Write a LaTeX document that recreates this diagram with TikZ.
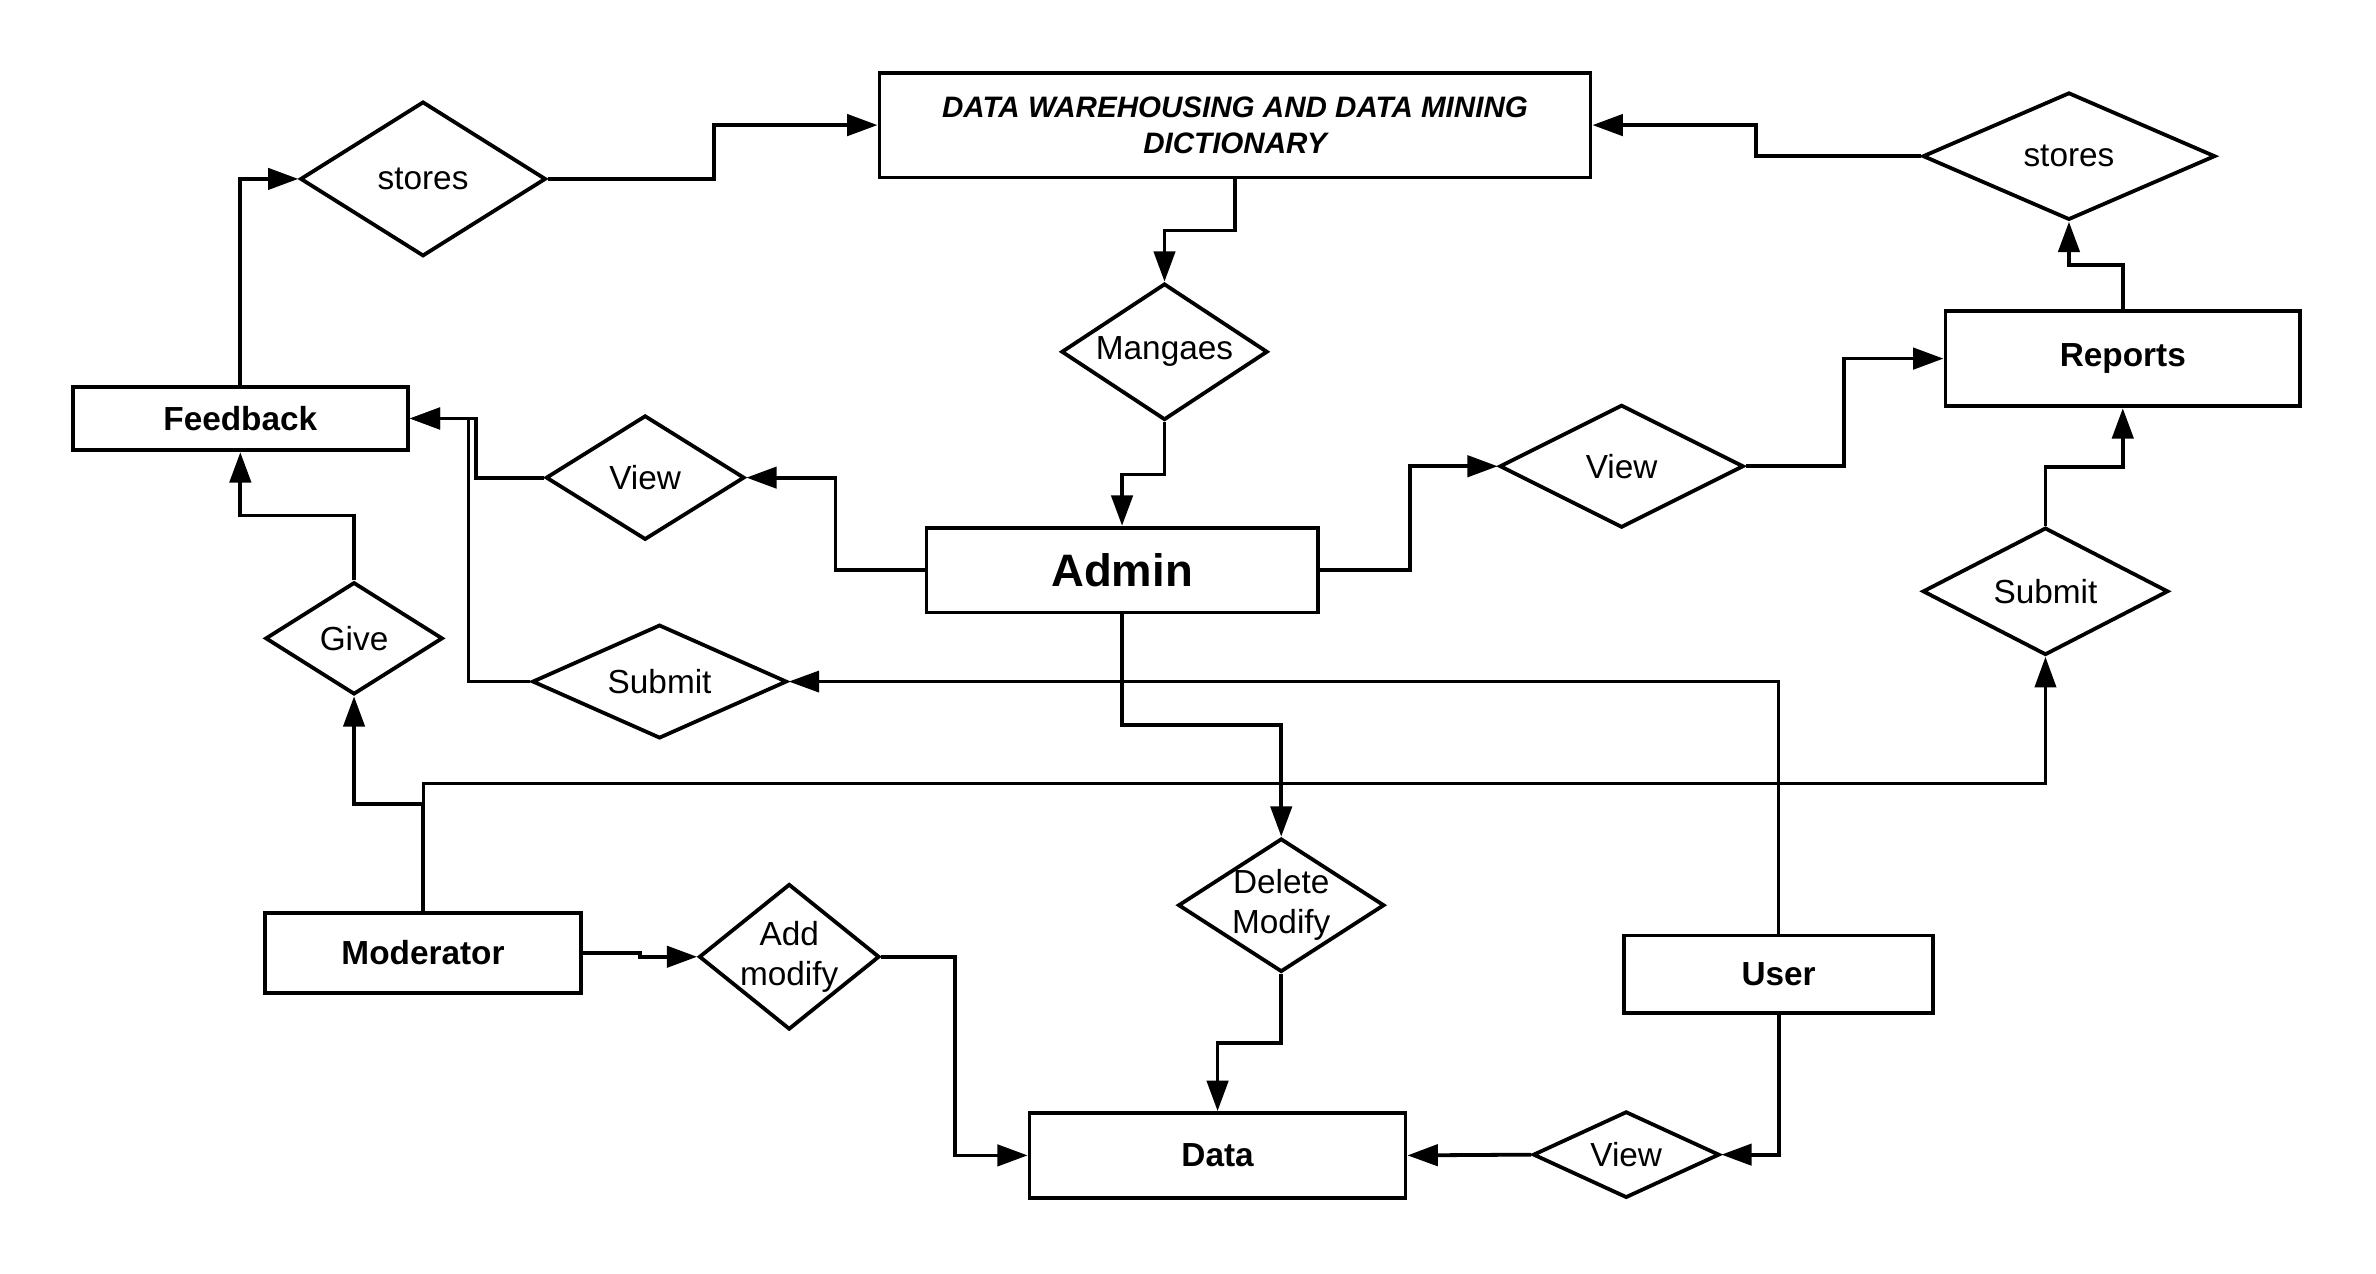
\documentclass[tikz,border=0pt]{standalone}
\usepackage{fontspec}
\setmainfont{Liberation Sans}
\usetikzlibrary{shapes.geometric,arrows.meta}
\tikzset{
  ent/.style={draw, line width=2.5pt, rectangle, inner sep=0pt, align=center,
    font=\fontsize{22}{26}\selectfont\bfseries},
  rel/.style={draw, line width=2.5pt, diamond, inner sep=0pt},
  lab/.style={font=\fontsize{22}{26.5}\selectfont, align=center, inner sep=0pt},
  conn/.style={line width=2.5pt, line join=miter, -{Triangle[length=20pt,width=14pt]}},
}
\begin{document}
\begin{tikzpicture}[x=1pt,y=-1pt]
\useasboundingbox (0,0) rectangle (1567,839.6);
% entities
\node[ent, minimum width=469pt, minimum height=69pt,
  font=\fontsize{19.5}{24}\selectfont\bfseries\itshape] (title) at (814.5,82.5)
  {DATA WAREHOUSING AND DATA MINING\\DICTIONARY};
\node[ent, minimum width=221pt, minimum height=42pt] (fb) at (158.5,276) {Feedback};
\node[ent, minimum width=234pt, minimum height=63pt] (rep) at (1400,236.5) {Reports};
\node[ent, minimum width=258pt, minimum height=56pt,
  font=\fontsize{30}{34}\selectfont\bfseries] (adm) at (740,376) {Admin};
\node[ent, minimum width=208pt, minimum height=53pt] (mod) at (279,628.5) {Moderator};
\node[ent, minimum width=204pt, minimum height=51pt] (usr) at (1173,642.5) {User};
\node[ent, minimum width=248pt, minimum height=56pt] (dat) at (803,762) {Data};
% relationships
\node[rel, minimum width=162pt, minimum height=102pt, label={[lab]center:stores}] (stl) at (279,118) {};
\node[rel, minimum width=193pt, minimum height=84pt, label={[lab]center:stores}] (str) at (1364.5,103) {};
\node[rel, minimum width=136pt, minimum height=90pt, label={[lab]center:Mangaes}] (mng) at (768,232) {};
\node[rel, minimum width=131pt, minimum height=82pt, label={[lab]center:View}] (vwl) at (425.5,315) {};
\node[rel, minimum width=161pt, minimum height=81pt, label={[lab]center:View}] (vwr) at (1069.5,307.5) {};
\node[rel, minimum width=117pt, minimum height=74pt, label={[lab]center:Give}] (giv) at (233.5,421) {};
\node[rel, minimum width=168pt, minimum height=75pt, label={[lab]center:Submit}] (sbl) at (435,449.5) {};
\node[rel, minimum width=162pt, minimum height=84pt, label={[lab]center:Submit}] (sbr) at (1349,390) {};
\node[rel, minimum width=136pt, minimum height=88pt, label={[lab]center:Delete\\Modify}] (dm) at (845,597) {};
\node[rel, minimum width=119pt, minimum height=96pt, label={[lab]center:Add\\modify}] (am) at (520.5,631) {};
\node[rel, minimum width=123pt, minimum height=57pt, label={[lab]center:View}] (vwb) at (1072.5,761.5) {};
% connectors
\draw[conn] (fb.north) |- (stl.west);
\draw[conn] (stl.east) -| (471,82.5) -- (title.west);
\draw[conn] (str.west) -| (1158,82.5) -- (title.east);
\draw[conn] (rep.north) |- (1364.5,175) -- (str.south);
\draw[conn] (title.south) |- (768,152) -- (mng.north);
\draw[conn] (mng.south) |- (740,313) -- (adm.north);
\draw[conn] (adm.west) -| (551,315) -- (vwl.east);
\draw[conn] (vwl.west) -| (314,276) -- (fb.east);
\draw[conn] (sbl.west) -| (309,276) -- (fb.east);
\draw[conn] (adm.east) -| (930,307.5) -- (vwr.west);
\draw[conn] (vwr.east) -| (1216,236.5) -- (rep.west);
\draw[conn] (sbr.north) |- (1400,308) -- (rep.south);
\draw[conn] (giv.north) |- (158.5,340) -- (fb.south);
\draw[conn] (mod.north) |- (233.5,530) -- (giv.south);
\draw[conn, line width=2pt] (mod.north) |- (1349,517) -- (sbr.south);
\draw[conn, line width=2pt] (usr.north) |- (sbl.east);
\draw[conn] (adm.south) |- (845,478) -- (dm.north);
\draw[conn] (dm.south) |- (803,688) -- (dat.north);
\draw[conn] (mod.east) -| (422,631) -- (am.west);
\draw[conn] (am.east) -| (630,762) -- (dat.west);
\draw[conn] (usr.south) |- (vwb.east);
\draw[conn] (vwb.west) -- (dat.east);
\end{tikzpicture}
\end{document}
